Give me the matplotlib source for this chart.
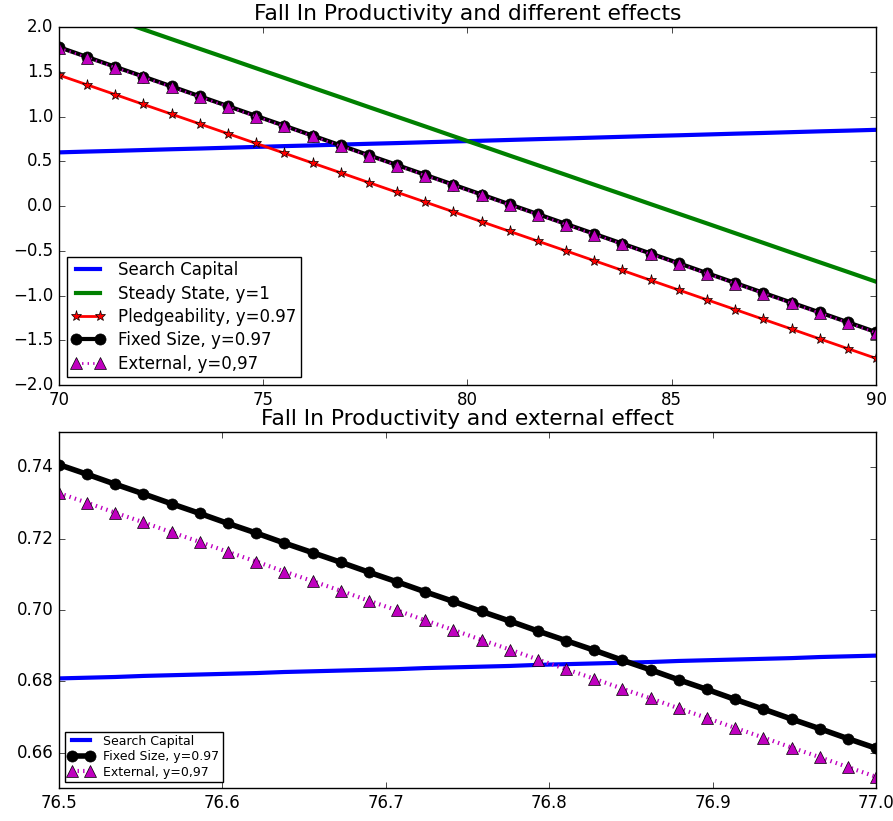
import numpy as np
import matplotlib
matplotlib.use("Agg")
import matplotlib.pyplot as plt

#   Values.
#   Upper panel: productivity from 70 to 90.
x_top = [70.000, 70.690, 71.379, 72.069, 72.759, 73.448, 74.138, 74.828,
         75.517, 76.207, 76.897, 77.586, 78.276, 78.966, 79.655, 80.345,
         81.034, 81.724, 82.414, 83.103, 83.793, 84.483, 85.172, 85.862,
         86.552, 87.241, 87.931, 88.621, 89.310, 90.000]

search_top = [0.600, 0.609, 0.617, 0.626, 0.635, 0.643, 0.652, 0.661, 0.670,
              0.678, 0.687, 0.696, 0.704, 0.713, 0.722, 0.730, 0.739, 0.748,
              0.756, 0.765, 0.774, 0.783, 0.791, 0.800, 0.809, 0.817, 0.826,
              0.835, 0.843, 0.852]

steady_top = [2.299, 2.191, 2.082, 1.974, 1.865, 1.757, 1.649, 1.540, 1.432,
              1.323, 1.215, 1.106, 0.998, 0.890, 0.781, 0.673, 0.564, 0.456,
              0.348, 0.239, 0.131, 0.022, -0.086, -0.194, -0.303, -0.411,
              -0.520, -0.628, -0.736, -0.845]

pledge_top = [1.464, 1.355, 1.246, 1.136, 1.027, 0.918, 0.809, 0.700, 0.591,
              0.481, 0.372, 0.263, 0.154, 0.045, -0.064, -0.174, -0.283,
              -0.392, -0.501, -0.610, -0.719, -0.829, -0.938, -1.047, -1.156,
              -1.265, -1.374, -1.484, -1.593, -1.702]

fixed_top = [1.776, 1.666, 1.556, 1.447, 1.337, 1.227, 1.117, 1.007, 0.898,
             0.788, 0.678, 0.568, 0.459, 0.349, 0.239, 0.129, 0.019, -0.090,
             -0.200, -0.310, -0.420, -0.530, -0.639, -0.749, -0.859, -0.969,
             -1.079, -1.188, -1.298, -1.408]

external_top = [1.768, 1.658, 1.548, 1.439, 1.329, 1.219, 1.109, 0.999, 0.890,
                0.780, 0.670, 0.560, 0.451, 0.341, 0.231, 0.121, 0.011,
                -0.098, -0.208, -0.318, -0.428, -0.538, -0.647, -0.757,
                -0.867, -0.977, -1.087, -1.196, -1.306, -1.416]

#   Lower panel: zoom on 76.5 to 77.0.
x_bot = [76.5000, 76.5172, 76.5345, 76.5517, 76.5690, 76.5862, 76.6034,
         76.6207, 76.6379, 76.6552, 76.6724, 76.6897, 76.7069, 76.7241,
         76.7414, 76.7586, 76.7759, 76.7931, 76.8103, 76.8276, 76.8448,
         76.8621, 76.8793, 76.8966, 76.9138, 76.9310, 76.9483, 76.9655,
         76.9828, 77.0000]

search_bot = [0.6808, 0.6810, 0.6812, 0.6815, 0.6817, 0.6819, 0.6821, 0.6823,
              0.6826, 0.6828, 0.6830, 0.6832, 0.6834, 0.6837, 0.6839, 0.6841,
              0.6843, 0.6846, 0.6848, 0.6850, 0.6852, 0.6854, 0.6857, 0.6859,
              0.6861, 0.6863, 0.6865, 0.6868, 0.6870, 0.6872]

fixed_bot = [0.7408, 0.7381, 0.7353, 0.7326, 0.7298, 0.7271, 0.7243, 0.7216,
             0.7188, 0.7161, 0.7134, 0.7106, 0.7079, 0.7051, 0.7024, 0.6996,
             0.6969, 0.6941, 0.6914, 0.6887, 0.6859, 0.6832, 0.6804, 0.6777,
             0.6749, 0.6722, 0.6694, 0.6667, 0.6639, 0.6612]

external_bot = [0.7328, 0.7301, 0.7273, 0.7246, 0.7218, 0.7191, 0.7163, 0.7136,
                0.7108, 0.7081, 0.7054, 0.7026, 0.6999, 0.6971, 0.6944, 0.6916,
                0.6889, 0.6861, 0.6834, 0.6807, 0.6779, 0.6752, 0.6724, 0.6697,
                0.6669, 0.6642, 0.6614, 0.6587, 0.6559, 0.6532]

top_yticks = [-2.0, -1.5, -1.0, -0.5, 0.0, 0.5, 1.0, 1.5, 2.0]
bot_yticks = [0.66, 0.68, 0.70, 0.72, 0.74]

#   Old-school look.
plt.style.use("classic")
plt.rcParams["font.family"] = "DejaVu Sans"

fig = plt.figure(figsize=(8.93, 8.21), dpi=100, facecolor="white")
ax1 = fig.add_axes([0.066, 0.531, 0.915, 0.436])
ax2 = fig.add_axes([0.066, 0.040, 0.915, 0.434])

### Upper panel
ax1.plot(x_top, search_top, "b-", lw=3, label="Search Capital")
ax1.plot(x_top, steady_top, "g-", lw=3, label="Steady State, y=1")
ax1.plot(x_top, pledge_top, "r-*", lw=2, ms=8, mec="k", mew=0.5,
         label="Pledgeability, y=0.97")
ax1.plot(x_top, fixed_top, "k-o", lw=3, ms=8, label="Fixed Size, y=0.97")
ax1.plot(x_top, external_top, "m:^", lw=2, ms=8, mec="k", mew=0.5,
         label="External, y=0,97")
ax1.set_xlim(70, 90)
ax1.set_ylim(-2, 2)
ax1.set_xticks([70, 75, 80, 85, 90])
ax1.set_yticks(top_yticks)
ax1.set_title("Fall In Productivity and different effects", fontsize=15.7)
ax1.legend(loc="lower left", fontsize=12, numpoints=2, fancybox=False,
           labelspacing=0.32, borderpad=0.25)

### Lower panel
ax2.plot(x_bot, search_bot, "b-", lw=3, label="Search Capital")
ax2.plot(x_bot, fixed_bot, "k-o", lw=4, ms=8, label="Fixed Size, y=0.97")
ax2.plot(x_bot, external_bot, "m:^", lw=3, ms=8, mec="k", mew=0.5,
         label="External, y=0,97")
ax2.set_xlim(76.5, 77.0)
ax2.set_ylim(0.65, 0.75)
ax2.set_xticks([76.5, 76.6, 76.7, 76.8, 76.9, 77.0])
ax2.set_yticks(bot_yticks)
ax2.set_title("Fall In Productivity and external effect", fontsize=15.7)
ax2.legend(loc="lower left", fontsize=9, numpoints=2, fancybox=False,
           labelspacing=0.2, borderpad=0.25)

for ax in (ax1, ax2):
    ax.tick_params(labelsize=12)

fig.savefig("out.png", dpi=100, facecolor="white")
